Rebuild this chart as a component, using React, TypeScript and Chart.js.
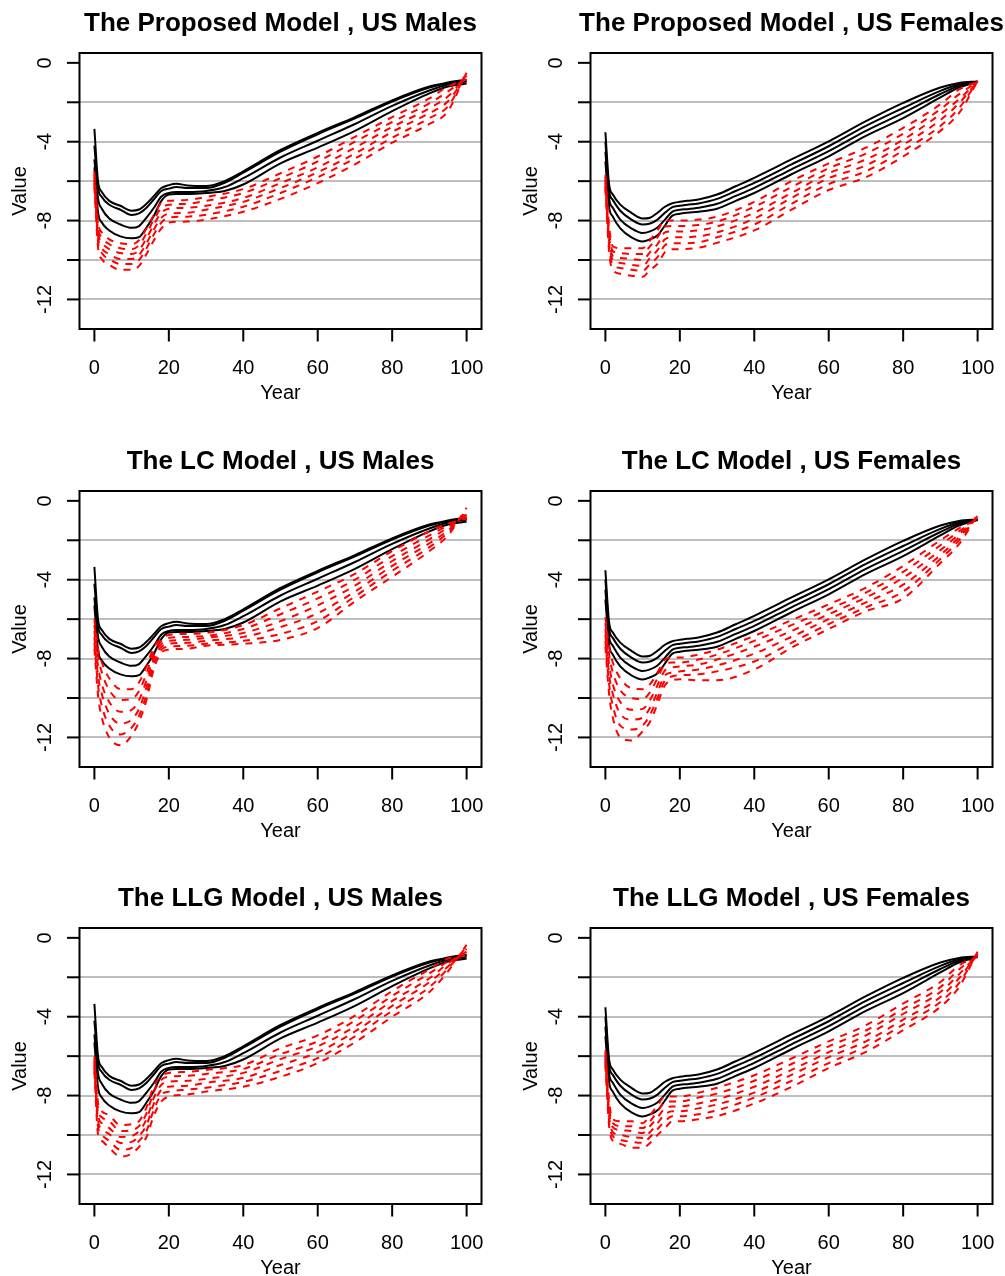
import React, { useEffect, useRef } from "react";
import { Chart, registerables } from "chart.js";

Chart.register(...registerables);

// ---------- axes ----------
const X_TICKS = [0, 20, 40, 60, 80, 100];
const Y_TICKS = [0, -2, -4, -6, -8, -10, -12];
const Y_TICK_LABELS = ["0", "", "-4", "", "-8", "", "-12"];
const GRID_LEVELS = [-2, -4, -6, -8, -10, -12];

// ---------- ages ----------
const BLACK_AGES = [0, 1, 2, 4, 7, 10, 12, 14, 16, 18, 20, 22, 25, 30, 35, 40, 50, 60, 70, 80, 90, 95, 100];
const RED_AGES = [0, 1, 2, 4, 7, 10, 12, 14, 16, 18, 20, 25, 30, 40, 50, 60, 70, 80, 90, 95, 100];

// ---------- observed (black) : US males ----------
const M_B1 = [-3.35, -6.05, -6.55, -7.0, -7.25, -7.5, -7.44, -7.15, -6.75, -6.35, -6.2, -6.13, -6.22, -6.25, -6.0, -5.5, -4.42, -3.55, -2.75, -1.9, -1.2, -1.0, -0.85];
const M_B2 = [-4.2, -6.35, -6.8, -7.2, -7.45, -7.72, -7.64, -7.35, -6.92, -6.5, -6.38, -6.3, -6.35, -6.35, -6.08, -5.57, -4.5, -3.62, -2.82, -1.96, -1.25, -1.03, -0.9];
const M_B3 = [-4.9, -6.9, -7.4, -7.9, -8.2, -8.37, -8.28, -7.85, -7.35, -6.78, -6.6, -6.55, -6.55, -6.5, -6.3, -5.85, -4.8, -3.95, -3.1, -2.18, -1.4, -1.1, -0.95];
const M_B4 = [-5.3, -7.6, -8.1, -8.5, -8.8, -8.9, -8.84, -8.35, -7.75, -7.0, -6.68, -6.65, -6.65, -6.6, -6.5, -6.17, -5.1, -4.3, -3.45, -2.45, -1.55, -1.2, -1.05];

// ---------- observed (black) : US females ----------
const F_B1 = [-3.52, -6.17, -6.68, -7.19, -7.61, -7.9, -7.86, -7.6, -7.3, -7.12, -7.05, -7.0, -6.93, -6.68, -6.26, -5.83, -4.9, -3.98, -2.96, -2.03, -1.25, -1.02, -0.94];
const F_B2 = [-4.0, -6.5, -6.95, -7.5, -7.95, -8.2, -8.15, -7.95, -7.6, -7.32, -7.25, -7.2, -7.13, -6.9, -6.5, -6.09, -5.15, -4.23, -3.2, -2.29, -1.42, -1.1, -0.95];
const F_B3 = [-4.5, -6.9, -7.35, -7.95, -8.4, -8.63, -8.55, -8.35, -7.95, -7.55, -7.45, -7.42, -7.35, -7.15, -6.75, -6.34, -5.4, -4.48, -3.45, -2.54, -1.58, -1.17, -0.96];
const F_B4 = [-5.0, -7.3, -7.8, -8.4, -8.85, -9.06, -8.95, -8.75, -8.25, -7.75, -7.65, -7.6, -7.55, -7.4, -7.0, -6.6, -5.65, -4.74, -3.7, -2.8, -1.75, -1.25, -0.97];

// ---------- forecasts (red) : Proposed, males ----------
const PM_R1 = [-5.5, -8.1, -8.6, -8.95, -9.15, -9.2, -9.0, -8.4, -7.7, -7.1, -7.0, -6.95, -6.8, -6.4, -5.6, -4.75, -3.75, -2.75, -1.8, -1.2, -0.85];
const PM_R2 = [-5.65, -8.35, -8.85, -9.2, -9.4, -9.45, -9.25, -8.65, -7.95, -7.35, -7.2, -7.15, -7.0, -6.6, -5.85, -5.0, -4.0, -3.0, -2.05, -1.45, -0.75];
const PM_R3 = [-5.8, -8.6, -9.1, -9.45, -9.65, -9.7, -9.5, -8.9, -8.2, -7.6, -7.4, -7.35, -7.25, -6.85, -6.1, -5.3, -4.3, -3.25, -2.3, -1.7, -0.65];
const PM_R4 = [-5.95, -8.85, -9.4, -9.7, -9.95, -9.95, -9.75, -9.15, -8.45, -7.85, -7.65, -7.6, -7.45, -7.05, -6.35, -5.55, -4.6, -3.5, -2.55, -1.95, -0.6];
const PM_R5 = [-6.1, -9.1, -9.65, -9.95, -10.2, -10.2, -10.0, -9.4, -8.7, -8.1, -7.85, -7.8, -7.7, -7.3, -6.6, -5.8, -4.85, -3.8, -2.8, -2.2, -0.5];
const PM_R6 = [-6.3, -9.4, -9.95, -10.25, -10.5, -10.5, -10.3, -9.7, -9.0, -8.4, -8.1, -8.05, -7.95, -7.55, -6.9, -6.1, -5.15, -4.05, -3.1, -2.45, -0.4];

// ---------- forecasts (red) : Proposed, females ----------
const PF_R1 = [-5.67, -8.3, -9.3, -9.4, -9.4, -9.4, -9.0, -8.5, -8.0, -8.0, -8.0, -7.95, -7.8, -7.05, -6.0, -5.1, -4.3, -3.3, -2.1, -1.35, -0.95];
const PF_R2 = [-5.8, -8.55, -9.55, -9.65, -9.7, -9.7, -9.3, -8.85, -8.3, -8.28, -8.28, -8.22, -8.05, -7.3, -6.3, -5.35, -4.6, -3.6, -2.35, -1.6, -0.95];
const PF_R3 = [-5.95, -8.8, -9.8, -9.9, -9.95, -10.0, -9.6, -9.2, -8.6, -8.55, -8.55, -8.5, -8.3, -7.6, -6.6, -5.6, -4.9, -3.9, -2.6, -1.85, -0.94];
const PF_R4 = [-6.1, -9.05, -10.0, -10.15, -10.25, -10.3, -9.9, -9.5, -8.95, -8.85, -8.85, -8.8, -8.6, -7.9, -6.85, -5.85, -5.2, -4.15, -2.9, -2.05, -0.94];
const PF_R5 = [-6.25, -9.3, -10.25, -10.4, -10.5, -10.55, -10.2, -9.85, -9.25, -9.15, -9.15, -9.1, -8.85, -8.2, -7.15, -6.15, -5.5, -4.45, -3.2, -2.3, -0.93];
const PF_R6 = [-6.4, -9.6, -10.5, -10.7, -10.8, -10.85, -10.5, -10.2, -9.6, -9.45, -9.45, -9.38, -9.13, -8.5, -7.45, -6.45, -5.8, -4.75, -3.45, -2.55, -0.93];

// ---------- forecasts (red) : LC, males ----------
const LM_R1 = [-6.0, -7.5, -8.2, -9.0, -9.55, -9.55, -9.2, -8.4, -7.4, -7.0, -6.8, -6.75, -6.7, -6.3, -5.45, -4.6, -3.7, -2.55, -1.55, -1.15, -0.9];
const LM_R2 = [-6.3, -7.9, -8.7, -9.6, -10.1, -10.05, -9.65, -8.75, -7.6, -7.1, -6.95, -6.9, -6.85, -6.5, -5.75, -4.95, -4.0, -2.8, -1.75, -1.25, -0.8];
const LM_R3 = [-6.6, -8.4, -9.3, -10.2, -10.7, -10.6, -10.1, -9.1, -7.8, -7.25, -7.1, -7.05, -6.95, -6.7, -6.1, -5.3, -4.3, -3.05, -1.95, -1.35, -0.7];
const LM_R4 = [-6.9, -8.9, -9.8, -10.8, -11.3, -11.1, -10.55, -9.45, -8.0, -7.4, -7.25, -7.2, -7.1, -6.9, -6.4, -5.7, -4.6, -3.3, -2.15, -1.5, -0.6];
const LM_R5 = [-7.2, -9.4, -10.4, -11.4, -11.85, -11.5, -10.9, -9.8, -8.25, -7.55, -7.4, -7.35, -7.25, -7.1, -6.75, -6.1, -4.85, -3.55, -2.35, -1.6, -0.45];
const LM_R6 = [-7.5, -9.9, -11.0, -12.0, -12.4, -11.9, -11.2, -10.1, -8.5, -7.7, -7.55, -7.5, -7.35, -7.25, -7.05, -6.45, -5.1, -3.85, -2.55, -1.75, -0.35];

// ---------- forecasts (red) : LC, females ----------
const LF_R1 = [-5.9, -7.4, -8.2, -9.0, -9.5, -9.55, -9.3, -8.7, -8.05, -7.95, -7.95, -7.8, -7.55, -6.85, -6.05, -5.25, -4.4, -3.3, -2.0, -1.4, -0.95];
const LF_R2 = [-6.2, -7.8, -8.7, -9.6, -10.0, -10.05, -9.7, -9.0, -8.3, -8.2, -8.2, -8.05, -7.8, -7.1, -6.3, -5.5, -4.65, -3.6, -2.25, -1.55, -0.9];
const LF_R3 = [-6.5, -8.3, -9.3, -10.2, -10.6, -10.55, -10.1, -9.35, -8.6, -8.45, -8.4, -8.3, -8.05, -7.4, -6.6, -5.75, -4.9, -3.9, -2.5, -1.7, -0.85];
const LF_R4 = [-6.8, -8.8, -9.8, -10.8, -11.1, -11.0, -10.5, -9.7, -8.85, -8.7, -8.65, -8.55, -8.35, -7.75, -6.9, -6.0, -5.15, -4.25, -2.75, -1.85, -0.8];
const LF_R5 = [-7.1, -9.3, -10.4, -11.4, -11.6, -11.4, -10.85, -10.0, -9.1, -8.9, -8.85, -8.8, -8.65, -8.15, -7.2, -6.25, -5.4, -4.6, -2.95, -2.0, -0.75];
const LF_R6 = [-7.4, -9.8, -11.0, -12.0, -12.15, -11.7, -11.2, -10.3, -9.35, -9.1, -9.05, -9.1, -9.1, -8.55, -7.45, -6.5, -5.6, -4.95, -3.15, -2.2, -0.68];

// ---------- forecasts (red) : LLG, males ----------
const GM_R1 = [-6.0, -8.4, -8.8, -9.0, -9.5, -9.45, -9.3, -8.6, -7.5, -7.0, -6.85, -6.8, -6.7, -6.45, -5.6, -4.95, -3.95, -2.7, -1.6, -1.05, -0.9];
const GM_R2 = [-6.15, -8.7, -9.1, -9.3, -9.8, -9.75, -9.55, -8.9, -7.8, -7.2, -7.05, -7.0, -6.9, -6.65, -5.9, -5.25, -4.2, -2.95, -1.8, -1.2, -0.8];
const GM_R3 = [-6.3, -9.0, -9.4, -9.65, -10.1, -10.05, -9.8, -9.2, -8.1, -7.45, -7.3, -7.25, -7.15, -6.85, -6.15, -5.5, -4.5, -3.2, -2.05, -1.3, -0.7];
const GM_R4 = [-6.45, -9.3, -9.7, -9.95, -10.4, -10.35, -10.05, -9.5, -8.4, -7.7, -7.55, -7.5, -7.35, -7.1, -6.45, -5.8, -4.75, -3.45, -2.25, -1.45, -0.55];
const GM_R5 = [-6.6, -9.6, -10.0, -10.3, -10.75, -10.65, -10.3, -9.8, -8.7, -7.95, -7.8, -7.7, -7.6, -7.3, -6.75, -6.1, -5.0, -3.7, -2.5, -1.55, -0.45];
const GM_R6 = [-6.8, -10.0, -10.3, -10.65, -11.1, -10.95, -10.6, -10.1, -9.0, -8.3, -8.05, -7.95, -7.8, -7.55, -7.05, -6.35, -5.3, -4.0, -2.75, -1.7, -0.35];

// ---------- forecasts (red) : LLG, females ----------
const GF_R1 = [-5.7, -8.3, -9.2, -9.3, -9.3, -9.4, -9.0, -8.5, -8.05, -8.05, -8.05, -7.86, -7.6, -6.97, -6.12, -5.25, -4.43, -3.33, -2.24, -1.4, -0.95];
const GF_R2 = [-5.85, -8.55, -9.4, -9.55, -9.55, -9.65, -9.3, -8.8, -8.35, -8.3, -8.3, -8.1, -7.9, -7.25, -6.4, -5.5, -4.7, -3.6, -2.5, -1.6, -0.9];
const GF_R3 = [-6.0, -8.8, -9.6, -9.75, -9.8, -9.9, -9.55, -9.1, -8.65, -8.55, -8.55, -8.4, -8.2, -7.55, -6.7, -5.8, -4.95, -3.85, -2.75, -1.85, -0.85];
const GF_R4 = [-6.15, -9.05, -9.85, -10.0, -10.1, -10.15, -9.85, -9.4, -8.95, -8.8, -8.8, -8.65, -8.45, -7.85, -6.95, -6.05, -5.25, -4.15, -3.0, -2.05, -0.8];
const GF_R5 = [-6.3, -9.3, -10.05, -10.25, -10.35, -10.4, -10.1, -9.7, -9.3, -9.05, -9.05, -8.95, -8.75, -8.1, -7.25, -6.35, -5.5, -4.4, -3.25, -2.3, -0.75];
const GF_R6 = [-6.45, -9.55, -10.3, -10.45, -10.65, -10.65, -10.4, -10.0, -9.65, -9.3, -9.3, -9.2, -9.04, -8.4, -7.56, -6.6, -5.78, -4.68, -3.5, -2.5, -0.7];

const MALE_BLACK = [M_B1, M_B2, M_B3, M_B4];
const FEMALE_BLACK = [F_B1, F_B2, F_B3, F_B4];

const TITLES = [
  "The Proposed Model , US Males",
  "The Proposed Model , US Females",
  "The LC Model , US Males",
  "The LC Model , US Females",
  "The LLG Model , US Males",
  "The LLG Model , US Females",
];

const PANELS = [
  { title: TITLES[0], black: MALE_BLACK, red: [PM_R1, PM_R2, PM_R3, PM_R4, PM_R5, PM_R6], col: 0, row: 0 },
  { title: TITLES[1], black: FEMALE_BLACK, red: [PF_R1, PF_R2, PF_R3, PF_R4, PF_R5, PF_R6], col: 1, row: 0 },
  { title: TITLES[2], black: MALE_BLACK, red: [LM_R1, LM_R2, LM_R3, LM_R4, LM_R5, LM_R6], col: 0, row: 1 },
  { title: TITLES[3], black: FEMALE_BLACK, red: [LF_R1, LF_R2, LF_R3, LF_R4, LF_R5, LF_R6], col: 1, row: 1 },
  { title: TITLES[4], black: MALE_BLACK, red: [GM_R1, GM_R2, GM_R3, GM_R4, GM_R5, GM_R6], col: 0, row: 2 },
  { title: TITLES[5], black: FEMALE_BLACK, red: [GF_R1, GF_R2, GF_R3, GF_R4, GF_R5, GF_R6], col: 1, row: 2 },
];

// ---------- layout ----------
const CANVAS_W = 494;
const CANVAS_H = 437;
const COL_LEFT = [0, 511];
const ROW_TOP = [0, 438, 875];
const FONT = '"Liberation Sans", Arial, Helvetica, sans-serif';

const rAxesPlugin = {
  id: "rAxes",
  beforeDatasetsDraw(chart: any) {
    const { ctx, chartArea: a, scales } = chart;
    const y = scales.y;
    ctx.save();
    ctx.strokeStyle = "#BEBEBE";
    ctx.lineWidth = 2;
    for (const v of GRID_LEVELS) {
      const py = Math.round(y.getPixelForValue(v));
      ctx.beginPath();
      ctx.moveTo(a.left, py);
      ctx.lineTo(a.right, py);
      ctx.stroke();
    }
    ctx.restore();
  },
  afterDraw(chart: any, _args: any, opts: any) {
    const { ctx, chartArea: a, scales } = chart;
    const x = scales.x;
    const y = scales.y;
    ctx.save();
    ctx.strokeStyle = "#000000";
    ctx.fillStyle = "#000000";
    ctx.lineWidth = 2;
    // box
    ctx.strokeRect(a.left, a.top, a.right - a.left, a.bottom - a.top);
    // x ticks
    ctx.font = `20px ${FONT}`;
    ctx.textAlign = "center";
    ctx.textBaseline = "alphabetic";
    for (const v of X_TICKS) {
      const px = x.getPixelForValue(v);
      ctx.beginPath();
      ctx.moveTo(px, a.bottom);
      ctx.lineTo(px, a.bottom + 12.5);
      ctx.stroke();
      ctx.fillText(String(v), px, a.bottom + 44.7);
    }
    // y ticks
    Y_TICKS.forEach((v, i) => {
      const py = y.getPixelForValue(v);
      ctx.beginPath();
      ctx.moveTo(a.left, py);
      ctx.lineTo(a.left - 12.5, py);
      ctx.stroke();
      const lab = Y_TICK_LABELS[i];
      if (lab) {
        ctx.save();
        ctx.translate(a.left - 28.5, py);
        ctx.rotate(-Math.PI / 2);
        ctx.fillText(lab, 0, 0);
        ctx.restore();
      }
    });
    // axis titles
    const cx = (a.left + a.right) / 2;
    const cy = (a.top + a.bottom) / 2;
    ctx.fillText("Year", cx, a.bottom + 70);
    ctx.save();
    ctx.translate(a.left - 53.5, cy);
    ctx.rotate(-Math.PI / 2);
    ctx.fillText("Value", 0, 0);
    ctx.restore();
    // main title
    ctx.font = `bold 26px ${FONT}`;
    ctx.fillText(opts.title || "", cx, a.top - 22);
    ctx.restore();
  },
};

function Panel({ panel }: { panel: any }) {
  const ref = useRef<HTMLCanvasElement | null>(null);
  useEffect(() => {
    if (!ref.current) return;
    const blackSets = panel.black.map((vals: number[]) => ({
      data: BLACK_AGES.map((age, i) => ({ x: age, y: vals[i] })),
      borderColor: "#000000",
      borderWidth: 2,
      pointRadius: 0,
      fill: false,
      cubicInterpolationMode: "monotone",
      order: 1,
    }));
    const redSets = panel.red.map((vals: number[]) => ({
      data: RED_AGES.map((age, i) => ({ x: age, y: vals[i] })),
      borderColor: "#FF0000",
      borderWidth: 2,
      borderDash: [7, 7],
      pointRadius: 0,
      fill: false,
      cubicInterpolationMode: "monotone",
      order: 0,
    }));
    const chart = new Chart(ref.current, {
      type: "line",
      data: { datasets: [...blackSets, ...redSets] },
      plugins: [rAxesPlugin as any],
      options: {
        animation: false,
        responsive: false,
        events: [],
        layout: { padding: { left: 79.5, right: 12.5, top: 53, bottom: 108 } },
        scales: {
          x: { type: "linear", min: -4, max: 104, display: false },
          y: { type: "linear", min: -13.5, max: 0.5, display: false },
        },
        plugins: {
          legend: { display: false },
          tooltip: { enabled: false },
          rAxes: { title: panel.title },
        } as any,
      },
    } as any);
    return () => chart.destroy();
  }, [panel]);
  return (
    <canvas
      ref={ref}
      width={CANVAS_W}
      height={CANVAS_H}
      style={{
        position: "absolute",
        left: COL_LEFT[panel.col],
        top: ROW_TOP[panel.row],
        width: CANVAS_W,
        height: CANVAS_H,
      }}
    />
  );
}

export default function App() {
  return (
    <div
      style={{
        position: "absolute",
        left: 0,
        top: 0,
        width: 1005,
        height: 1276,
        overflow: "hidden",
        background: "#FFFFFF",
      }}
    >
      {PANELS.map((p, i) => (
        <Panel key={i} panel={p} />
      ))}
    </div>
  );
}
